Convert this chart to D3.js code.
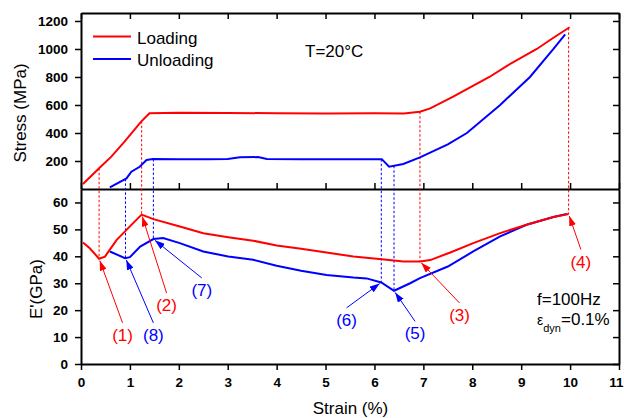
<!DOCTYPE html>
<html>
<head>
<meta charset="utf-8">
<script src="https://cdn.jsdelivr.net/npm/d3@7"></script>
<style>
  body { margin: 0; background: #fff; }
  svg text { font-family: "Liberation Sans", Arial, sans-serif; }
</style>
</head>
<body>
<div id="chart"></div>
<script>
// strain (%) vs stress (MPa)
const loadingStress = [[0.04,36],[0.37,148],[0.62,231],[0.89,338],[1.23,481],[1.40,541],[2.0,545],[3.0,543],
  [4.0,541],[5.0,540],[6.0,541],[6.6,540],[6.93,552],[7.14,576],[7.61,659],[8.35,800],[8.71,880],[9.32,1000],
  [9.59,1064],[9.99,1155]];
const unloadingStress = [[0.59,12],[0.93,76],[1.03,124],[1.20,159],[1.34,207],[1.47,214],[2.0,212],[2.6,213],
  [3.0,215],[3.25,226],[3.62,228],[3.8,215],[4.5,212],[5.5,212],[6.15,213],[6.30,159],[6.59,179],[6.93,226],
  [7.5,318],[7.89,400],[8.57,600],[9.18,800],[9.66,1000],[9.90,1105]];

// strain (%) vs storage modulus E' (GPa)
const loadingModulus = [[0.04,45.1],[0.18,43.0],[0.37,39.1],[0.49,39.9],[0.73,46.1],[1.0,51.1],[1.24,55.5],
  [1.48,53.8],[2.02,51.1],[2.5,48.6],[3.01,47.1],[3.52,45.8],[4.0,44.0],[4.5,42.8],[5.02,41.4],[5.57,39.9],
  [6.15,38.9],[6.59,38.1],[6.93,38.1],[7.14,38.6],[7.55,41.4],[8.02,44.9],[8.57,48.6],[9.11,51.7],[9.66,54.6],
  [9.97,55.7]];
const unloadingModulus = [[0.59,41.8],[0.9,39.3],[1.0,39.7],[1.21,43.6],[1.48,46.4],[1.68,46.8],[2.02,44.9],
  [2.5,41.8],[3.01,39.9],[3.52,38.7],[4.0,36.5],[4.5,34.6],[5.02,33.1],[5.57,32.1],[5.84,31.8],[6.14,30.3],
  [6.40,27.2],[6.73,30.0],[6.93,31.9],[7.5,36.2],[8.02,41.8],[8.57,47.4],[9.11,51.7],[9.66,54.6],[9.93,55.7]];

// transition points: [label, series, strain, label strain, label E']
const points = [
  ['(1)', 'loading', 0.37, 0.85, 10.8],
  ['(2)', 'loading', 1.24, 1.75, 21.9],
  ['(3)', 'loading', 6.93, 7.74, 18.2],
  ['(4)', 'loading', 9.97, 10.22, 38.1],
  ['(5)', 'unloading', 6.40, 6.83, 11.4],
  ['(6)', 'unloading', 6.14, 5.43, 16.4],
  ['(7)', 'unloading', 1.48, 2.47, 27.5],
  ['(8)', 'unloading', 0.91, 1.48, 10.8]
];

const strainTicks = d3.range(0, 12, 1);
const strainMinor = d3.range(0.5, 11, 1);
const stressTicks = [200, 400, 600, 800, 1000, 1200];
const stressMinor = [100, 300, 500, 700, 900, 1100];
const modTicks = [0, 10, 20, 30, 40, 50, 60];
const modMinor = [5, 15, 25, 35, 45, 55];

const red = '#ff0000', blue = '#0000ff';
const series = {
  loading: {stress: loadingStress, mod: loadingModulus, color: red},
  unloading: {stress: unloadingStress, mod: unloadingModulus, color: blue}
};

const width = 624, height = 418;
const x = d3.scaleLinear().domain([0, 11]).range([81, 619]);
const yS = d3.scaleLinear().domain([0, 1257]).range([189, 13]);
const yE = d3.scaleLinear().domain([0, 65]).range([364, 189]);

const svg = d3.select('#chart').append('svg')
  .attr('width', width).attr('height', height);

const defs = svg.append('defs');
[['red', red], ['blue', blue]].forEach(function(m) {
  defs.append('marker')
    .attr('id', 'arrow-' + m[0])
    .attr('markerUnits', 'userSpaceOnUse')
    .attr('markerWidth', 10).attr('markerHeight', 7)
    .attr('refX', 10).attr('refY', 3.5)
    .attr('orient', 'auto')
    .append('path').attr('d', 'M0,0 L10,3.5 L0,7 Z').attr('fill', m[1]);
});

function valueAt(data, s) {
  const i = d3.bisector(d => d[0]).left(data, s);
  if (i <= 0) return data[0][1];
  if (i >= data.length) return data[data.length - 1][1];
  const a = data[i - 1], b = data[i];
  return a[1] + (b[1] - a[1]) * (s - a[0]) / (b[0] - a[0]);
}

// axes: minor ticks first, then major ones
function drawAxis(axisFn, scale, pos, majors, minors, size, labelled) {
  const g = svg.append('g').attr('transform', 'translate(' + pos[0] + ',' + pos[1] + ')');
  g.call(axisFn(scale).tickValues(minors).tickSize(size / 2).tickSizeOuter(0).tickFormat(''));
  g.call(axisFn(scale).tickValues(majors).tickSize(size).tickSizeOuter(0).tickPadding(7)
    .tickFormat(labelled ? d3.format('d') : ''));
  g.selectAll('.tick line').attr('stroke', '#000').attr('stroke-width', 1.5);
  g.select('.domain').attr('stroke', '#000').attr('stroke-width', 2);
  g.selectAll('text').attr('font-size', '13.5px').attr('font-weight', 'bold')
    .attr('fill', '#000').style('font-family', '"Liberation Sans", Arial, sans-serif');
  return g;
}

// top panel
drawAxis(d3.axisLeft, yS, [81, 0], stressTicks, stressMinor, 6, true);
drawAxis(d3.axisLeft, yS, [619, 0], stressTicks, stressMinor, 6, false);
drawAxis(d3.axisBottom, x, [0, 13], strainTicks, strainMinor, 6, false);
drawAxis(d3.axisTop, x, [0, 189], strainTicks, strainMinor, 6, false);
// bottom panel
drawAxis(d3.axisLeft, yE, [81, 0], modTicks, modMinor, 6, true);
drawAxis(d3.axisLeft, yE, [619, 0], modTicks, modMinor, 6, false);
const xAxis = drawAxis(d3.axisBottom, x, [0, 364], strainTicks, strainMinor, 6, true);
// keep the last label inside the window
xAxis.selectAll('.tick text').filter(d => d === 11).attr('dx', -3);

// dashed guides linking stress curve and E' curve
const guides = svg.append('g');
points.forEach(function(p) {
  const s = series[p[1]];
  guides.append('line')
    .attr('x1', x(p[2])).attr('x2', x(p[2]))
    .attr('y1', yS(valueAt(s.stress, p[2])))
    .attr('y2', yE(valueAt(s.mod, p[2])))
    .attr('stroke', s.color).attr('stroke-width', 1)
    .attr('stroke-dasharray', '2.5,2');
});

const lineS = d3.line().x(d => x(d[0])).y(d => yS(d[1]));
const lineE = d3.line().x(d => x(d[0])).y(d => yE(d[1]));
['unloading', 'loading'].forEach(function(k) {
  const s = series[k];
  svg.append('path').attr('d', lineS(s.stress))
    .attr('fill', 'none').attr('stroke', s.color).attr('stroke-width', 2);
  svg.append('path').attr('d', lineE(s.mod))
    .attr('fill', 'none').attr('stroke', s.color).attr('stroke-width', 2);
});

// annotations
const notes = svg.append('g');
points.forEach(function(p) {
  const s = series[p[1]];
  const tx = x(p[2]), ty = yE(valueAt(s.mod, p[2]));
  const lx = x(p[3]), ly = yE(p[4]);
  const sx = lx, sy = ly - 12;
  const dx = tx - sx, dy = ty - sy, len = Math.sqrt(dx * dx + dy * dy);
  notes.append('line')
    .attr('x1', sx).attr('y1', sy)
    .attr('x2', tx - dx / len * 2).attr('y2', ty - dy / len * 2)
    .attr('stroke', s.color).attr('stroke-width', 1)
    .attr('marker-end', 'url(#arrow-' + (p[1] === 'loading' ? 'red' : 'blue') + ')');
  notes.append('text')
    .attr('x', lx).attr('y', ly).attr('dy', '0.36em')
    .attr('text-anchor', 'middle').attr('font-size', '17px')
    .attr('fill', s.color).text(p[0]);
});

// legend
const legend = svg.append('g');
[['Loading', red, 36.5, 43.5], ['Unloading', blue, 59, 66]].forEach(function(l) {
  legend.append('line').attr('x1', 93).attr('x2', 131).attr('y1', l[2]).attr('y2', l[2])
    .attr('stroke', l[1]).attr('stroke-width', 2);
  legend.append('text').attr('x', 137).attr('y', l[3]).attr('font-size', '17px').text(l[0]);
});

svg.append('text').attr('x', 305).attr('y', 56.5).attr('font-size', '17px').text('T=20°C');
svg.append('text').attr('x', 537).attr('y', 305).attr('font-size', '17px').text('f=100Hz');
const eps = svg.append('text').attr('x', 537).attr('y', 325).attr('font-size', '17px');
eps.append('tspan').attr('font-size', '14px').text('ε');
eps.append('tspan').attr('font-size', '11px').attr('dy', 7).text('dyn');
eps.append('tspan').attr('dy', -7).text('=0.1%');

// axis titles
svg.append('text').attr('transform', 'translate(20,113) rotate(-90)')
  .attr('text-anchor', 'middle').attr('dy', '0.35em').attr('font-size', '17px').text('Stress (MPa)');
svg.append('text').attr('transform', 'translate(36,289) rotate(-90)')
  .attr('text-anchor', 'middle').attr('dy', '0.35em').attr('font-size', '17px').text("E'(GPa)");
svg.append('text').attr('x', 350.5).attr('y', 414)
  .attr('text-anchor', 'middle').attr('font-size', '17px').text('Strain (%)');
</script>
</body>
</html>
